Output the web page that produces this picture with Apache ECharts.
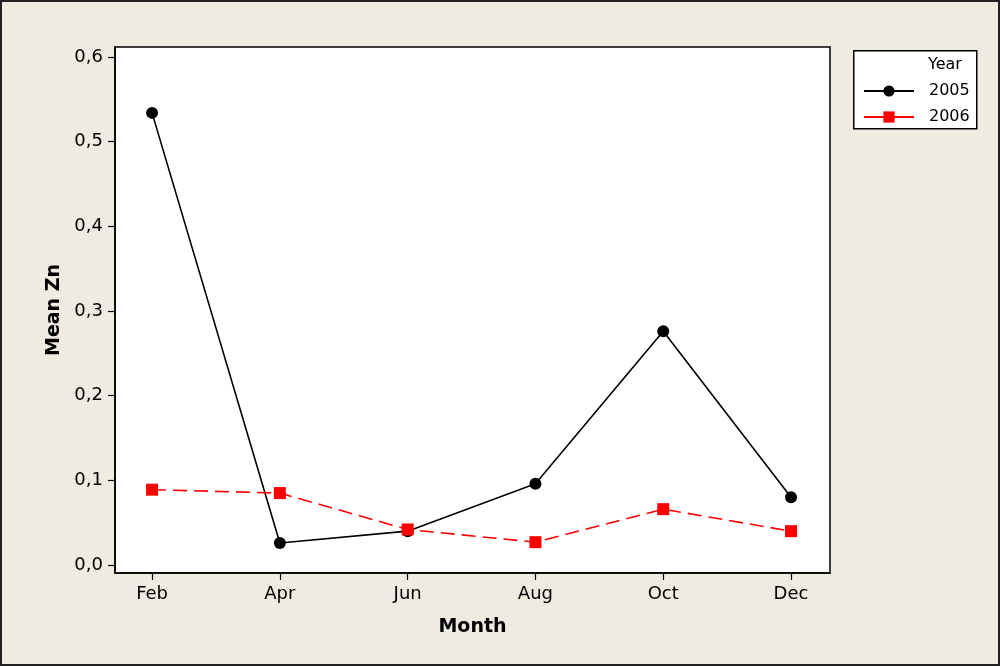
<!DOCTYPE html>
<html><head><meta charset="utf-8">
<script src="https://cdn.jsdelivr.net/npm/echarts@6/dist/echarts.min.js"></script>
<style>html,body{margin:0;padding:0;background:#F0EBE1;}#c{width:1000px;height:666px;}</style>
</head><body><div id="c"></div>
<script>
const months = ['Feb','Apr','Jun','Aug','Oct','Dec'];
const y2005 = [0.534, 0.026, 0.040, 0.096, 0.276, 0.080];
const y2006 = [0.089, 0.085, 0.042, 0.027, 0.066, 0.040];
const yTicks = [0, 0.1, 0.2, 0.3, 0.4, 0.5, 0.6];
const seriesNames = ['2005', '2006'];

const font = 'DejaVu Sans';
const chart = echarts.init(document.getElementById('c'), null, {renderer:'canvas'});
const idx = months.map((m,i)=>i);
chart.setOption({
  backgroundColor: '#F0EBE1',
  animation: false,
  grid: {left:115, top:47, right:170, bottom:93, show:true, backgroundColor:'#ffffff', borderColor:'#000', borderWidth:1.5},
  xAxis: {
    type:'value', min:-0.29, max:5.305,
    name:'Month', nameLocation:'middle', nameGap:45,
    nameTextStyle:{fontFamily:font, fontWeight:'bold', fontSize:19, color:'#000'},
    axisLine:{show:true, onZero:false, lineStyle:{color:'#000', width:1.5}},
    splitLine:{show:false},
    axisTick:{show:true, customValues: idx, length:7, lineStyle:{color:'#000', width:1.2}},
    axisLabel:{customValues: idx, formatter:v=>months[Math.round(v)], fontFamily:font, fontSize:18, color:'#000', margin:12}
  },
  yAxis: {
    type:'value', min:-0.0094, max:0.6118,
    name:'Mean Zn', nameLocation:'middle', nameGap:47, nameRotate:90,
    nameTextStyle:{fontFamily:font, fontWeight:'bold', fontSize:19, color:'#000'},
    axisLine:{show:true, onZero:false, lineStyle:{color:'#000', width:1.5}},
    splitLine:{show:false},
    axisTick:{show:true, customValues: yTicks, length:7, lineStyle:{color:'#000', width:1.2}},
    axisLabel:{customValues: yTicks, formatter:v=>v.toFixed(1).replace('.',','), fontFamily:font, fontSize:18, color:'#000', margin:12}
  },
  legend: {
    orient:'vertical', left:858, top:78, itemWidth:50, itemHeight:14, itemGap:10,
    data: seriesNames,
    lineStyle:{type:'solid'},
    textStyle:{fontFamily:font, fontSize:16, color:'#000', padding:[0,0,0,10]}
  },
  graphic: [
    {type:'rect', left:853, top:50, shape:{width:123, height:78}, style:{fill:'#fff', stroke:'#000', lineWidth:1.5}, z:-1},
    {type:'text', left:928, top:57, style:{text:'Year', font:'16px "DejaVu Sans"', fill:'#000'}},
    {type:'rect', shape:{x:1, y:1, width:998, height:664}, style:{fill:'none', stroke:'#222', lineWidth:2}, silent:true}
  ],
  series: [
    {name:seriesNames[0], type:'line', data: y2005.map((v,i)=>[i,v]), symbol:'circle', symbolSize:12,
     lineStyle:{color:'#000', width:1.6}, itemStyle:{color:'#000'}},
    {name:seriesNames[1], type:'line', data: y2006.map((v,i)=>[i,v]), symbol:'rect', symbolSize:12,
     lineStyle:{color:'#ff0000', width:1.6, type:[14,7]}, itemStyle:{color:'#ff0000'}}
  ]
});
</script></body></html>
